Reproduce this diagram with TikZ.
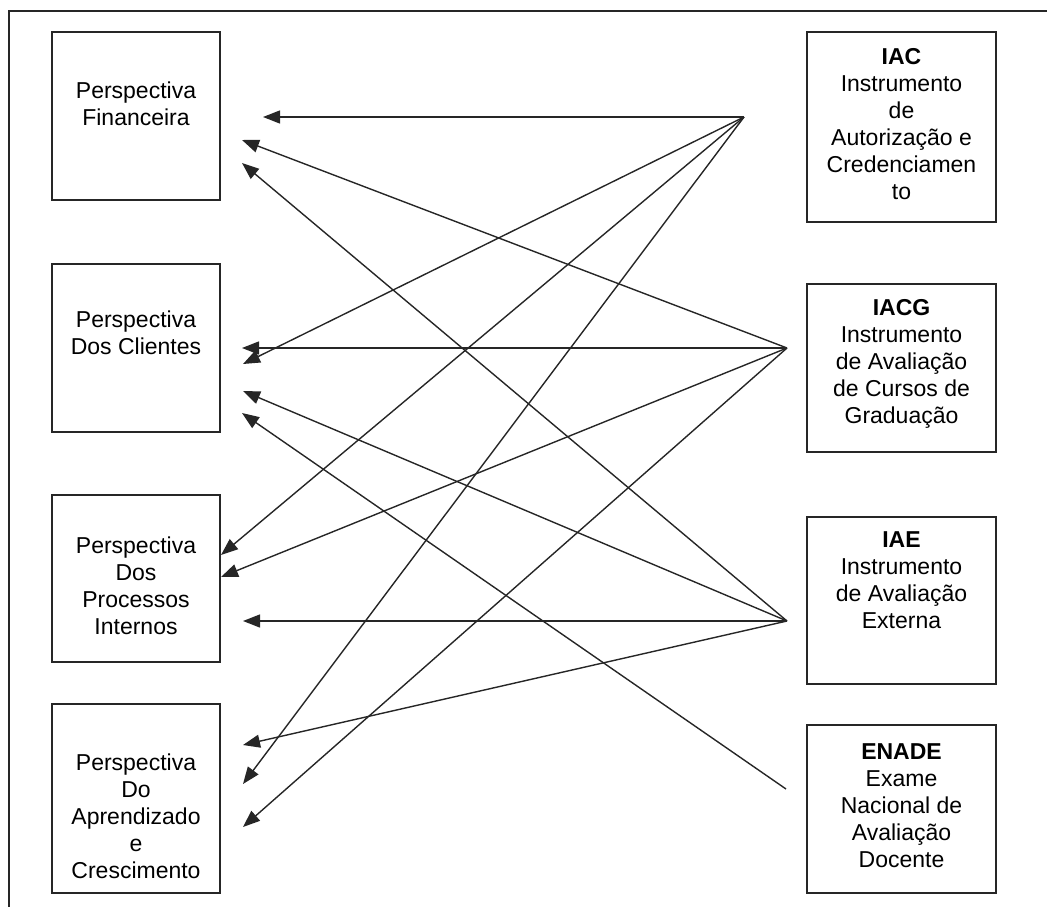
\documentclass[tikz,border=0pt]{standalone}
\usepackage{fontspec}
\setmainfont{Liberation Sans}
\usetikzlibrary{arrows.meta}
\begin{document}
\begin{tikzpicture}[x=1pt,y=-1pt,
  box/.style={draw=black!85,line width=1.6pt,rectangle,inner sep=0pt},
  lbl/.style={anchor=north,align=center,inner sep=0pt,font=\fontsize{23}{27}\selectfont},
  arr/.style={draw=black!85,line width=1.4pt,-{Triangle[length=17pt,width=13pt]}},
  frame/.style={draw=black!85,line width=1.8pt}]
\useasboundingbox (0,0) rectangle (1047,907);

% outer frame (only the top and left edges lie inside the page)
\draw[frame] (1047,11) -- (9,11) -- (9,907);

% left column: perspectives
\node[box,minimum width=168pt,minimum height=168pt] (fin) at (136,116) {};
\node[box,minimum width=168pt,minimum height=168pt] (cli) at (136,348) {};
\node[box,minimum width=168pt,minimum height=167pt] (pro) at (136,578.5) {};
\node[box,minimum width=168pt,minimum height=189pt] (apr) at (136,798.5) {};

\node[lbl] (tfin) at (136,81.5) {Perspectiva\\Financeira};
\node[lbl] (tcli) at (136,310.5) {Perspectiva\\Dos Clientes};
\node[lbl] (tpro) at (136,536.5) {Perspectiva\\Dos\\Processos\\Internos};
\node[lbl] (tapr) at (136,753.5) {Perspectiva\\Do\\Aprendizado\\e\\Crescimento};

% right column: instruments
\node[box,minimum width=189pt,minimum height=190pt] (iac) at (901.5,127) {};
\node[box,minimum width=189pt,minimum height=168pt] (iacg) at (901.5,368) {};
\node[box,minimum width=189pt,minimum height=167pt] (iae) at (901.5,600.5) {};
\node[box,minimum width=189pt,minimum height=168pt] (enade) at (901.5,809) {};

\node[lbl] (tiac) at (901.5,48.5) {\textbf{IAC}\\Instrumento\\de\\Autorização e\\Credenciamen\\to};
\node[lbl] (tiacg) at (901.5,299.5) {\textbf{IACG}\\Instrumento\\de Avaliação\\de Cursos de\\Graduação};
\node[lbl] (tiae) at (901.5,531.5) {\textbf{IAE}\\Instrumento\\de Avaliação\\Externa};
\node[lbl] (tenade) at (901.5,743.5) {\textbf{ENADE}\\Exame\\Nacional de\\Avaliação\\Docente};

% fan-out points of the connectors
\coordinate (sIAC) at (744,117);
\coordinate (sIACG) at (787,348);
\coordinate (sIAE) at (787,621);
\coordinate (sENADE) at (786,789);

% arrow tips beside the perspectives
\coordinate (fin1) at (263,117);
\coordinate (fin2) at (242,140);
\coordinate (fin3) at (242,163);
\coordinate (cli1) at (242,348);
\coordinate (cli2) at (243,364);
\coordinate (cli3) at (243,391);
\coordinate (cli4) at (242,413);
\coordinate (pro1) at (221,555);
\coordinate (pro2) at (221,577);
\coordinate (pro3) at (243,621);
\coordinate (apr1) at (243,745);
\coordinate (apr2) at (243,784);
\coordinate (apr3) at (243,827);

% IAC
\draw[arr] (sIAC) -- (fin1);
\draw[arr] (sIAC) -- (cli2);
\draw[arr] (sIAC) -- (pro1);
\draw[arr] (sIAC) -- (apr2);
% IACG
\draw[arr] (sIACG) -- (fin2);
\draw[arr] (sIACG) -- (cli1);
\draw[arr] (sIACG) -- (pro2);
\draw[arr] (sIACG) -- (apr3);
% IAE
\draw[arr] (sIAE) -- (fin3);
\draw[arr] (sIAE) -- (cli3);
\draw[arr] (sIAE) -- (pro3);
\draw[arr] (sIAE) -- (apr1);
% ENADE
\draw[arr] (sENADE) -- (cli4);
\end{tikzpicture}
\end{document}
